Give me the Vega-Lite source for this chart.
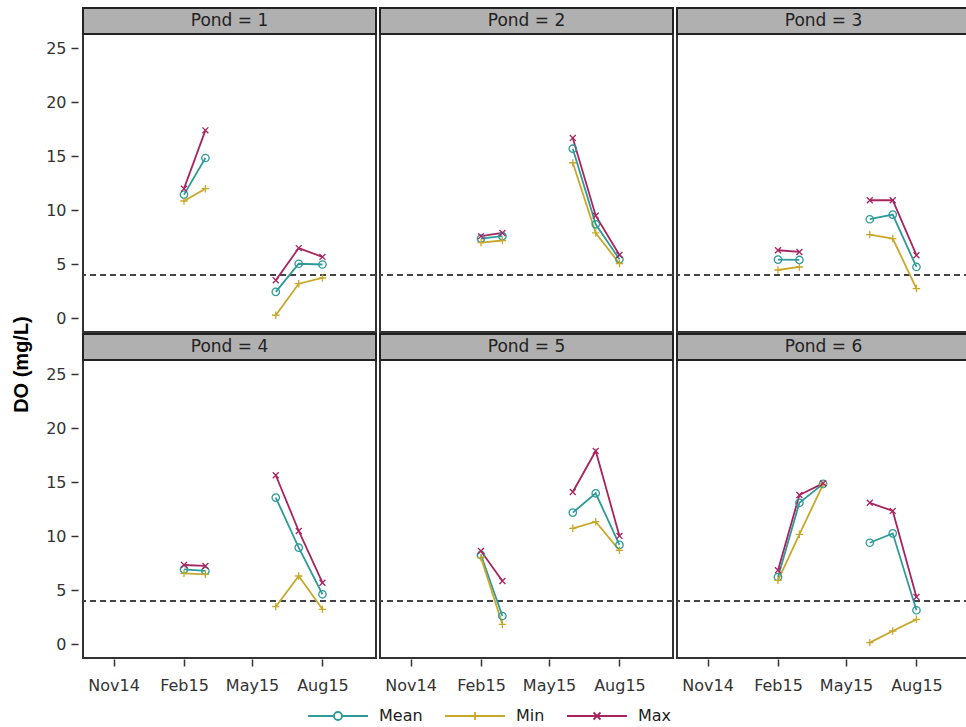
{
  "$schema": "https://vega.github.io/schema/vega-lite/v6.json",
  "padding": {"left": 11, "top": 5, "right": 0, "bottom": 0},
  "background": "white",
  "title": {"text": "DO (mg/L)", "orient": "left", "anchor": "middle", "font": "Liberation Sans", "fontSize": 20, "fontWeight": "bold", "color": "#000", "offset": 14},
  "data": {
    "values": [
      {"Pond": 1, "Date": "2015-02-01", "Season": "Winter", "Mean": 11.45, "Min": 10.86, "Max": 12.0},
      {"Pond": 1, "Date": "2015-03-01", "Season": "Winter", "Mean": 14.84, "Min": 12.0, "Max": 17.4},
      {"Pond": 1, "Date": "2015-06-01", "Season": "Summer", "Mean": 2.44, "Min": 0.28, "Max": 3.52},
      {"Pond": 1, "Date": "2015-07-01", "Season": "Summer", "Mean": 5.05, "Min": 3.2, "Max": 6.5},
      {"Pond": 1, "Date": "2015-08-01", "Season": "Summer", "Mean": 4.98, "Min": 3.73, "Max": 5.68},
      {"Pond": 2, "Date": "2015-02-01", "Season": "Winter", "Mean": 7.38, "Min": 7.0, "Max": 7.6},
      {"Pond": 2, "Date": "2015-03-01", "Season": "Winter", "Mean": 7.6, "Min": 7.2, "Max": 7.9},
      {"Pond": 2, "Date": "2015-06-01", "Season": "Summer", "Mean": 15.7, "Min": 14.4, "Max": 16.7},
      {"Pond": 2, "Date": "2015-07-01", "Season": "Summer", "Mean": 8.7, "Min": 7.9, "Max": 9.5},
      {"Pond": 2, "Date": "2015-08-01", "Season": "Summer", "Mean": 5.46, "Min": 5.07, "Max": 5.86},
      {"Pond": 3, "Date": "2015-02-01", "Season": "Winter", "Mean": 5.43, "Min": 4.47, "Max": 6.3},
      {"Pond": 3, "Date": "2015-03-01", "Season": "Winter", "Mean": 5.4, "Min": 4.75, "Max": 6.14},
      {"Pond": 3, "Date": "2015-06-01", "Season": "Summer", "Mean": 9.17, "Min": 7.75, "Max": 10.93},
      {"Pond": 3, "Date": "2015-07-01", "Season": "Summer", "Mean": 9.6, "Min": 7.38, "Max": 10.93},
      {"Pond": 3, "Date": "2015-08-01", "Season": "Summer", "Mean": 4.75, "Min": 2.75, "Max": 5.84},
      {"Pond": 4, "Date": "2015-02-01", "Season": "Winter", "Mean": 6.94, "Min": 6.57, "Max": 7.34},
      {"Pond": 4, "Date": "2015-03-01", "Season": "Winter", "Mean": 6.79, "Min": 6.48, "Max": 7.25},
      {"Pond": 4, "Date": "2015-06-01", "Season": "Summer", "Mean": 13.58, "Min": 3.48, "Max": 15.65},
      {"Pond": 4, "Date": "2015-07-01", "Season": "Summer", "Mean": 8.95, "Min": 6.32, "Max": 10.49},
      {"Pond": 4, "Date": "2015-08-01", "Season": "Summer", "Mean": 4.63, "Min": 3.24, "Max": 5.7},
      {"Pond": 5, "Date": "2015-02-01", "Season": "Winter", "Mean": 8.27, "Min": 8.02, "Max": 8.64},
      {"Pond": 5, "Date": "2015-03-01", "Season": "Winter", "Mean": 2.62, "Min": 1.85, "Max": 5.86},
      {"Pond": 5, "Date": "2015-06-01", "Season": "Summer", "Mean": 12.19, "Min": 10.74, "Max": 14.1},
      {"Pond": 5, "Date": "2015-07-01", "Season": "Summer", "Mean": 13.98, "Min": 11.35, "Max": 17.9},
      {"Pond": 5, "Date": "2015-08-01", "Season": "Summer", "Mean": 9.2, "Min": 8.7, "Max": 10.03},
      {"Pond": 6, "Date": "2015-02-01", "Season": "Winter", "Mean": 6.23, "Min": 5.92, "Max": 6.85},
      {"Pond": 6, "Date": "2015-03-01", "Season": "Winter", "Mean": 13.1, "Min": 10.18, "Max": 13.82},
      {"Pond": 6, "Date": "2015-04-01", "Season": "Winter", "Mean": 14.85, "Min": 14.8, "Max": 14.9},
      {"Pond": 6, "Date": "2015-06-01", "Season": "Summer", "Mean": 9.4, "Min": 0.15, "Max": 13.1},
      {"Pond": 6, "Date": "2015-07-01", "Season": "Summer", "Mean": 10.27, "Min": 1.23, "Max": 12.35},
      {"Pond": 6, "Date": "2015-08-01", "Season": "Summer", "Mean": 3.15, "Min": 2.31, "Max": 4.38}
    ]
  },
  "transform": [{"fold": ["Mean", "Min", "Max"], "as": ["Stat", "DO"]}],
  "facet": {"field": "Pond", "type": "ordinal", "header": {"title": null, "labels": false, "labelExpr": "''", "labelFontSize": 1, "labelPadding": 0}},
  "columns": 3,
  "spacing": {"row": -2, "column": 0},
  "spec": {
    "width": 293,
    "height": 298,
    "layer": [
      {
        "mark": {"type": "rule", "strokeDash": [6, 4], "color": "#444", "strokeWidth": 2},
        "encoding": {"y": {"datum": 4, "type": "quantitative"}}
      },
      {
        "mark": {"type": "line", "strokeWidth": 1.8},
        "encoding": {
          "x": {
            "field": "Date", "type": "temporal",
            "scale": {"domain": [{"year": 2014, "month": "sep", "date": 22}, {"year": 2015, "month": "oct", "date": 10}]},
            "axis": {
              "title": null, "format": "%b%y", "tickSize": 7, "labelPadding": 11,
              "values": [{"year": 2014, "month": "nov", "date": 1}, {"year": 2015, "month": "feb", "date": 1}, {"year": 2015, "month": "may", "date": 1}, {"year": 2015, "month": "aug", "date": 1}]
            }
          },
          "y": {
            "field": "DO", "type": "quantitative",
            "scale": {"domain": [-1.27, 26.32], "nice": false, "zero": false},
            "axis": {"title": null, "values": [0, 5, 10, 15, 20, 25], "offset": 3, "tickSize": 7, "labelPadding": 5}
          },
          "color": {
            "field": "Stat", "type": "nominal",
            "scale": {"domain": ["Mean", "Min", "Max"], "range": ["#2E9A9A", "#C8A82A", "#A8245F"]},
            "legend": {
              "title": null, "orient": "none", "legendX": 244, "legendY": 671, "direction": "horizontal",
              "symbolSize": 400, "symbolStrokeWidth": 1.8, "labelOffset": 30, "columnPadding": 18,
              "labelFont": "DejaVu Sans", "labelFontSize": 16, "labelColor": "#222",
              "encode": {
                "symbols": {
                  "update": {
                    "shape": {"signal": "datum.value === 'Mean' ? 'M-3,0H-0.4M0.4,0H3M0.4,0A0.4,0.4 0 1,1 -0.4,0A0.4,0.4 0 1,1 0.4,0' : datum.value === 'Min' ? 'M-3,0H3M0,-0.4V0.4' : 'M-3,0H3M-0.35,-0.35L0.35,0.35M-0.35,0.35L0.35,-0.35'"},
                    "fill": {"value": "transparent"}
                  }
                }
              }
            }
          },
          "detail": {"field": "Season", "type": "nominal"}
        }
      },
      {
        "transform": [{"filter": "datum.Stat === 'Mean'"}],
        "mark": {"type": "point", "shape": "circle", "filled": false, "strokeWidth": 1.3, "size": 55, "opacity": 1},
        "encoding": {
          "x": {"field": "Date", "type": "temporal"},
          "y": {"field": "DO", "type": "quantitative"},
          "color": {"field": "Stat", "type": "nominal"}
        }
      },
      {
        "transform": [{"filter": "datum.Stat === 'Min'"}],
        "mark": {"type": "point", "shape": "M-1,0H1M0,-1V1", "filled": false, "strokeWidth": 1.3, "size": 55, "opacity": 1},
        "encoding": {
          "x": {"field": "Date", "type": "temporal"},
          "y": {"field": "DO", "type": "quantitative"},
          "color": {"field": "Stat", "type": "nominal"}
        }
      },
      {
        "transform": [{"filter": "datum.Stat === 'Max'"}],
        "mark": {"type": "point", "shape": "M-0.8,-0.8L0.8,0.8M-0.8,0.8L0.8,-0.8", "filled": false, "strokeWidth": 1.3, "size": 55, "opacity": 1},
        "encoding": {
          "x": {"field": "Date", "type": "temporal"},
          "y": {"field": "DO", "type": "quantitative"},
          "color": {"field": "Stat", "type": "nominal"}
        }
      },
      {
        "transform": [
          {"aggregate": [{"op": "count", "as": "n"}], "groupby": ["Pond"]},
          {"calculate": "'Pond = ' + datum.Pond", "as": "label"}
        ],
        "layer": [
          {
            "mark": {"type": "rect", "fill": "#B0B0B0", "stroke": "#222", "strokeWidth": 2},
            "encoding": {"y": {"datum": 26.32, "type": "quantitative"}, "y2": {"datum": 28.72}}
          },
          {
            "mark": {"type": "text", "font": "DejaVu Sans", "fontSize": 17, "color": "#222", "baseline": "middle"},
            "encoding": {"y": {"datum": 27.52, "type": "quantitative"}, "text": {"field": "label", "type": "nominal"}}
          }
        ]
      }
    ]
  },
  "config": {
    "header": {"labels": false, "title": null, "labelPadding": 0, "labelFontSize": 1, "labelExpr": "''"},
    "view": {"stroke": "#333", "strokeWidth": 2},
    "axis": {"labelFont": "DejaVu Sans", "labelFontSize": 16, "labelColor": "#333", "tickColor": "#333", "tickWidth": 1.5, "grid": false, "domain": false}
  }
}
